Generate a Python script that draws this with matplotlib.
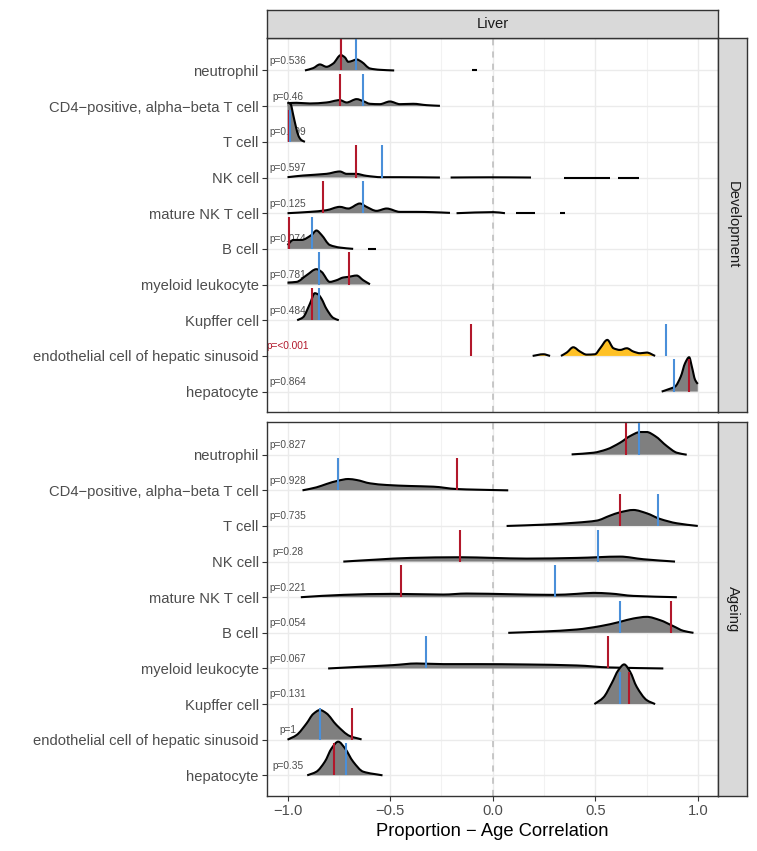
import matplotlib
matplotlib.use("Agg")
import matplotlib.pyplot as plt
from matplotlib.path import Path
from matplotlib.patches import PathPatch

plt.rcParams['font.family'] = ['Liberation Sans', 'DejaVu Sans']

# rows top to bottom
cell_types = ["neutrophil", "CD4\u2212positive, alpha\u2212beta T cell", "T cell", "NK cell",
              "mature NK T cell", "B cell", "myeloid leukocyte", "Kupffer cell",
              "endothelial cell of hepatic sinusoid", "hepatocyte"]

# vertical markers (red = observed, blue = expected)
dev_red = [-0.740, -0.745, -0.995, -0.667, -0.829, -0.992, -0.702, -0.883, -0.107, 0.958]
dev_blue = [-0.666, -0.631, -0.990, -0.540, -0.631, -0.883, -0.847, -0.847, 0.847, 0.885]
age_red = [0.649, -0.176, 0.623, -0.159, -0.446, 0.867, 0.564, 0.665, -0.688, -0.774]
age_blue = [0.714, -0.756, 0.808, 0.514, 0.302, 0.623, -0.327, 0.623, -0.841, -0.714]

dev_p = ["p=0.536", "p=0.46", "p=0.999", "p=0.597", "p=0.125", "p=0.074", "p=0.781",
         "p=0.484", "p=<0.001", "p=0.864"]
age_p = ["p=0.827", "p=0.928", "p=0.735", "p=0.28", "p=0.221", "p=0.054", "p=0.067",
         "p=0.131", "p=1", "p=0.35"]
dev_sig = [False] * 8 + [True, False]

# density ridges: list of segments, each (x list, height list)
dev_ridges = [
    [([-0.915, -0.875, -0.842, -0.810, -0.777, -0.740, -0.720, -0.704, -0.683, -0.663, -0.639, -0.598, -0.550, -0.480],
      [0, 0.066, 0.169, 0.103, 0.197, 0.431, 0.365, 0.243, 0.272, 0.309, 0.243, 0.056, 0.019, 0]),
     ([-0.101, -0.075], [0, 0])],
    [([-1.0, -0.956, -0.891, -0.810, -0.745, -0.712, -0.663, -0.631, -0.598, -0.550, -0.501, -0.452, -0.387, -0.322, -0.257],
      [0.084, 0.094, 0.075, 0.103, 0.169, 0.103, 0.197, 0.140, 0.066, 0.056, 0.131, 0.056, 0.066, 0.028, 0.009])],
    [([-1.0, -0.985, -0.972, -0.959, -0.946, -0.932, -0.915],
      [1.105, 1.058, 0.749, 0.421, 0.159, 0.047, 0])],
    [([-1.0, -0.924, -0.810, -0.745, -0.712, -0.667, -0.615, -0.541, -0.452, -0.257],
      [0.009, 0.056, 0.103, 0.169, 0.103, 0.103, 0.047, 0.009, 0.009, 0]),
     ([-0.205, -0.013, 0.187], [0, 0.006, 0]),
     ([0.348, 0.572], [0, 0]),
     ([0.610, 0.711], [0, 0])],
    [([-1.0, -0.891, -0.810, -0.745, -0.704, -0.647, -0.615, -0.566, -0.517, -0.452, -0.371, -0.290, -0.208],
      [0, 0.037, 0.084, 0.178, 0.131, 0.272, 0.178, 0.066, 0.131, 0.037, 0.037, 0.028, 0.009]),
     ([-0.176, 0.003, 0.060], [0, 0.03, 0]),
     ([0.114, 0.206], [0, 0]),
     ([0.328, 0.354], [0, 0])],
    [([-1.0, -0.972, -0.932, -0.883, -0.859, -0.834, -0.794, -0.745, -0.680],
      [0.11, 0.25, 0.25, 0.39, 0.515, 0.39, 0.11, 0.037, 0.0]),
     ([-0.607, -0.571], [0, 0])],
    [([-1.0, -0.956, -0.907, -0.859, -0.834, -0.794, -0.761, -0.729, -0.704, -0.663, -0.631, -0.598],
      [0.056, 0.075, 0.262, 0.431, 0.356, 0.075, 0.122, 0.197, 0.215, 0.253, 0.122, 0.009])],
    [([-0.953, -0.924, -0.891, -0.867, -0.850, -0.834, -0.810, -0.777, -0.750],
      [0, 0.084, 0.459, 0.758, 0.721, 0.599, 0.318, 0.066, 0])],
    [([0.195, 0.247, 0.280], [0, 0.047, 0]),
     ([0.333, 0.361, 0.393, 0.426, 0.458, 0.499, 0.524, 0.559, 0.589, 0.621, 0.654, 0.686, 0.719, 0.751, 0.792],
      [0, 0.094, 0.243, 0.122, 0.037, 0.047, 0.215, 0.449, 0.215, 0.168, 0.215, 0.122, 0.075, 0.094, 0])],
    [([0.824, 0.857, 0.889, 0.917, 0.938, 0.958, 0.971, 0.987, 1.0],
      [0, 0.066, 0.140, 0.421, 0.796, 0.964, 0.702, 0.328, 0.215])],
]

age_ridges = [
    [([0.385, 0.491, 0.556, 0.621, 0.670, 0.719, 0.751, 0.792, 0.849, 0.898, 0.946],
      [0.009, 0.056, 0.150, 0.337, 0.524, 0.637, 0.637, 0.524, 0.243, 0.056, 0])],
    [([-0.927, -0.859, -0.810, -0.753, -0.704, -0.663, -0.598, -0.517, -0.403, -0.289, -0.176, -0.078, 0.076],
      [0, 0.084, 0.178, 0.272, 0.318, 0.290, 0.197, 0.150, 0.122, 0.103, 0.037, 0.019, 0])],
    [([0.068, 0.247, 0.410, 0.507, 0.572, 0.621, 0.686, 0.751, 0.816, 0.898, 1.0],
      [0, 0.037, 0.094, 0.150, 0.290, 0.384, 0.449, 0.356, 0.197, 0.075, 0])],
    [([-0.728, -0.566, -0.403, -0.159, 0.003, 0.166, 0.410, 0.621, 0.735, 0.889],
      [0, 0.056, 0.103, 0.122, 0.103, 0.084, 0.103, 0.140, 0.066, 0])],
    [([-0.935, -0.728, -0.485, -0.241, -0.127, 0.085, 0.296, 0.410, 0.491, 0.572, 0.686, 0.898],
      [0, 0.066, 0.094, 0.075, 0.103, 0.084, 0.066, 0.094, 0.122, 0.103, 0.037, 0])],
    [([0.076, 0.247, 0.410, 0.524, 0.621, 0.686, 0.751, 0.816, 0.881, 0.930, 0.979],
      [0, 0.037, 0.094, 0.187, 0.309, 0.403, 0.449, 0.356, 0.187, 0.056, 0])],
    [([-0.802, -0.647, -0.485, -0.371, -0.241, -0.078, 0.166, 0.410, 0.572, 0.832],
      [0, 0.047, 0.094, 0.140, 0.122, 0.122, 0.112, 0.084, 0.028, 0])],
    [([0.496, 0.540, 0.580, 0.613, 0.641, 0.670, 0.702, 0.751, 0.792],
      [0, 0.187, 0.581, 0.955, 1.114, 0.908, 0.487, 0.112, 0])],
    [([-1.0, -0.956, -0.907, -0.875, -0.842, -0.810, -0.761, -0.696, -0.639],
      [0, 0.131, 0.459, 0.721, 0.833, 0.740, 0.412, 0.103, 0.009])],
    [([-0.904, -0.859, -0.818, -0.785, -0.753, -0.720, -0.680, -0.631, -0.537],
      [0, 0.103, 0.384, 0.758, 0.946, 0.758, 0.384, 0.103, 0])],
]

GREY_FILL = '#7F7F7F'
SIG_FILL = '#FFC125'
RED = '#B2182B'
BLUE = '#4A8FD9'
FRAME = '#333333'

W, H = 757, 851
fig = plt.figure(figsize=(W / 100, H / 100), dpi=100)

px_left, px_right = 267, 718.3


def box(top, bottom, left=px_left, right=px_right):
    return [left / W, 1 - bottom / H, (right - left) / W, (bottom - top) / H]


def smooth_path(xs, ys):
    # draw a smooth (monotone hermite) curve through the read points
    n = len(xs)
    if n < 3:
        return [(x, y) for x, y in zip(xs, ys)], [Path.MOVETO] + [Path.LINETO] * (n - 1)
    d = [(ys[i + 1] - ys[i]) / (xs[i + 1] - xs[i]) for i in range(n - 1)]
    m = [d[0]] + [0.0] * (n - 2) + [d[-1]]
    for i in range(1, n - 1):
        if d[i - 1] * d[i] > 0:
            m[i] = 2.0 / (1.0 / d[i - 1] + 1.0 / d[i])
    verts = [(xs[0], ys[0])]
    codes = [Path.MOVETO]
    for i in range(n - 1):
        dx = xs[i + 1] - xs[i]
        verts += [(xs[i] + dx / 3, ys[i] + m[i] * dx / 3),
                  (xs[i + 1] - dx / 3, ys[i + 1] - m[i + 1] * dx / 3),
                  (xs[i + 1], ys[i + 1])]
        codes += [Path.CURVE4] * 3
    return verts, codes


def draw_panel(ax, ridges, red, blue, pvals, sig, show_x):
    n = len(cell_types)
    ax.set_xlim(-1.1, 1.1)
    ax.set_ylim(0.42, 10.91)
    ax.set_facecolor('white')
    ax.set_xticks([-1.0, -0.5, 0.0, 0.5, 1.0])
    ax.set_xticks([-0.75, -0.25, 0.25, 0.75], minor=True)
    ax.set_yticks(range(1, n + 1))
    ax.set_yticklabels(cell_types[::-1])
    ax.grid(True, which='major', color='#EBEBEB', lw=1.0, zorder=0)
    ax.grid(True, which='minor', axis='x', color='#F2F2F2', lw=0.8, zorder=0)
    ax.set_axisbelow(True)
    ax.tick_params(axis='both', which='major', length=3.3, width=0.8, color=FRAME,
                   labelcolor='#4D4D4D', labelsize=10.6, pad=2.6)
    ax.tick_params(which='minor', length=0)
    if not show_x:
        ax.tick_params(axis='x', bottom=False, labelbottom=False)
    for s in ax.spines.values():
        s.set_color(FRAME)
        s.set_linewidth(1.0)
    ax.axvline(0, color='#BBBBBB', lw=1.1, ls=(0, (4, 4)), zorder=1)

    for i in range(n):
        base = n - i
        ax.text(-1.0, base + 0.27, pvals[i], ha='center', va='center', fontsize=7.3,
                color=RED if sig[i] else '#4D4D4D', clip_on=True, zorder=1.5)
        fill = SIG_FILL if sig[i] else GREY_FILL
        for xs, hs in ridges[i]:
            ys = [base + h for h in hs]
            verts, codes = smooth_path(xs, ys)
            fverts = verts + [(xs[-1], base), (xs[0], base), (xs[0], ys[0])]
            fcodes = codes + [Path.LINETO, Path.LINETO, Path.CLOSEPOLY]
            ax.add_patch(PathPatch(Path(fverts, fcodes), facecolor=fill, lw=0,
                                   zorder=2 + i * 0.1))
            ax.add_patch(PathPatch(Path(verts, codes), facecolor='none', edgecolor='black',
                                   lw=1.5, capstyle='butt', joinstyle='round',
                                   zorder=2.05 + i * 0.1))
    for i in range(n):
        base = n - i
        ax.vlines(red[i], base, base + 0.9, color=RED, lw=1.5, zorder=5)
        ax.vlines(blue[i], base, base + 0.9, color=BLUE, lw=1.5, zorder=5)


ax_dev = fig.add_axes(box(38, 412.3))
ax_age = fig.add_axes(box(422.3, 796))
draw_panel(ax_dev, dev_ridges, dev_red, dev_blue, dev_p, dev_sig, False)
draw_panel(ax_age, age_ridges, age_red, age_blue, age_p, [False] * 10, True)


def strip(rect, label, rotation=0):
    s = fig.add_axes(rect)
    s.set_facecolor('#D9D9D9')
    s.set_xticks([])
    s.set_yticks([])
    for sp in s.spines.values():
        sp.set_color(FRAME)
        sp.set_linewidth(1.0)
    s.text(0.5, 0.5, label, ha='center', va='center', rotation=rotation,
           fontsize=10.6, color='#1A1A1A', transform=s.transAxes)


strip(box(10, 38), "Liver")
strip(box(38, 412.3, 718.3, 746.7), "Development", rotation=-90)
strip(box(422.3, 796, 718.3, 746.7), "Ageing", rotation=-90)

fig.text(492.7 / W, 1 - 831 / H, "Proportion \u2212 Age Correlation", ha='center', va='center',
         fontsize=13.2, color='black')

fig.savefig("out.png", dpi=100)
